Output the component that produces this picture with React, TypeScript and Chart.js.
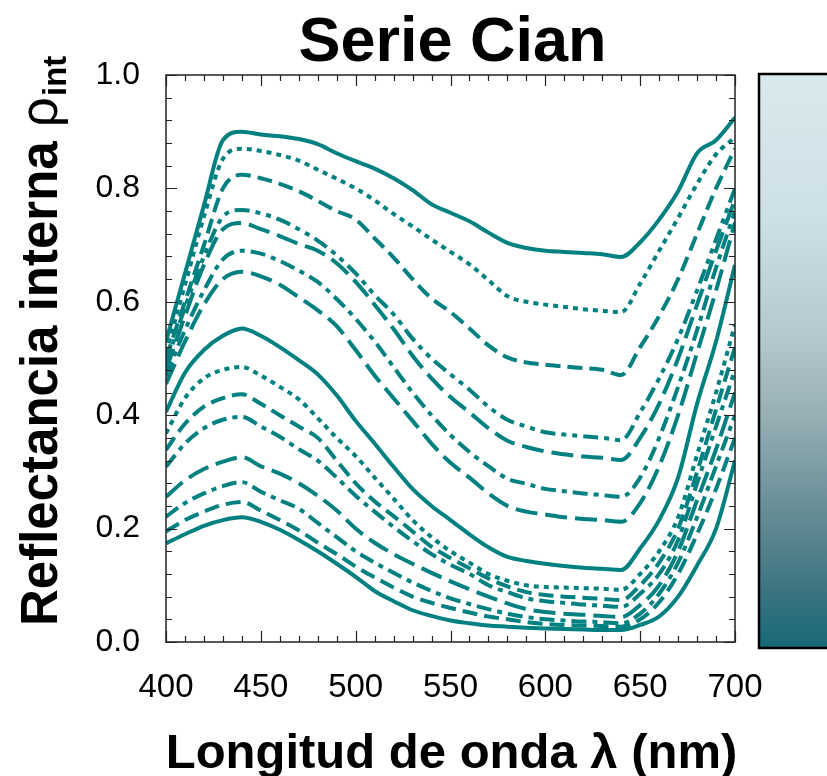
import React, { useEffect, useRef } from "react";
import { Chart, registerables } from "chart.js";

Chart.register(...registerables);

const wavelengths = [400, 410, 420, 430, 440, 450, 460, 470, 480, 490, 500, 510, 520, 530, 540, 550, 560, 570, 580, 590, 600, 610, 620, 630, 640, 650, 660, 670, 680, 690, 700];

const serieU1 = [0.53, 0.65, 0.77, 0.885, 0.90, 0.895, 0.892, 0.887, 0.878, 0.862, 0.848, 0.835, 0.818, 0.797, 0.772, 0.757, 0.742, 0.722, 0.704, 0.695, 0.690, 0.688, 0.686, 0.684, 0.679, 0.705, 0.745, 0.795, 0.862, 0.885, 0.925];
const serieU2 = [0.51, 0.63, 0.75, 0.852, 0.87, 0.866, 0.859, 0.849, 0.833, 0.817, 0.800, 0.779, 0.755, 0.733, 0.710, 0.688, 0.666, 0.638, 0.610, 0.600, 0.595, 0.591, 0.587, 0.584, 0.582, 0.632, 0.690, 0.748, 0.808, 0.860, 0.890];
const serieU3 = [0.50, 0.60, 0.70, 0.80, 0.824, 0.818, 0.808, 0.795, 0.778, 0.760, 0.745, 0.712, 0.678, 0.640, 0.606, 0.582, 0.553, 0.523, 0.502, 0.493, 0.489, 0.486, 0.483, 0.480, 0.471, 0.520, 0.575, 0.640, 0.720, 0.800, 0.870];
const serieU4 = [0.49, 0.59, 0.68, 0.75, 0.762, 0.756, 0.745, 0.728, 0.708, 0.682, 0.650, 0.612, 0.578, 0.535, 0.500, 0.472, 0.445, 0.415, 0.392, 0.380, 0.370, 0.366, 0.363, 0.360, 0.356, 0.405, 0.465, 0.535, 0.620, 0.710, 0.800];
const serieU5 = [0.48, 0.575, 0.665, 0.728, 0.739, 0.728, 0.716, 0.702, 0.690, 0.668, 0.635, 0.595, 0.552, 0.505, 0.465, 0.432, 0.405, 0.377, 0.355, 0.344, 0.336, 0.331, 0.327, 0.325, 0.321, 0.360, 0.420, 0.500, 0.595, 0.690, 0.780];
const serieU6 = [0.47, 0.55, 0.62, 0.675, 0.69, 0.685, 0.672, 0.655, 0.635, 0.605, 0.570, 0.530, 0.485, 0.440, 0.400, 0.365, 0.335, 0.310, 0.288, 0.279, 0.270, 0.266, 0.262, 0.259, 0.256, 0.290, 0.360, 0.450, 0.550, 0.660, 0.760];
const serieU7 = [0.455, 0.53, 0.595, 0.64, 0.653, 0.645, 0.630, 0.608, 0.585, 0.557, 0.515, 0.470, 0.430, 0.390, 0.350, 0.316, 0.290, 0.262, 0.240, 0.230, 0.225, 0.220, 0.217, 0.215, 0.212, 0.245, 0.310, 0.400, 0.510, 0.620, 0.740];
const serieL1 = [0.406, 0.475, 0.515, 0.54, 0.553, 0.54, 0.52, 0.497, 0.472, 0.435, 0.390, 0.350, 0.309, 0.270, 0.240, 0.215, 0.190, 0.167, 0.150, 0.143, 0.138, 0.134, 0.131, 0.129, 0.127, 0.165, 0.215, 0.290, 0.420, 0.530, 0.665];
const serieL2 = [0.368, 0.43, 0.465, 0.48, 0.485, 0.47, 0.45, 0.428, 0.395, 0.36, 0.328, 0.29, 0.253, 0.215, 0.185, 0.16, 0.14, 0.12, 0.108, 0.10, 0.097, 0.096, 0.095, 0.094, 0.092, 0.12, 0.16, 0.22, 0.33, 0.44, 0.56];
const serieL3 = [0.339, 0.385, 0.415, 0.43, 0.437, 0.42, 0.40, 0.38, 0.36, 0.32, 0.28, 0.248, 0.222, 0.195, 0.168, 0.148, 0.13, 0.112, 0.098, 0.088, 0.083, 0.08, 0.078, 0.076, 0.074, 0.10, 0.14, 0.20, 0.30, 0.41, 0.52];
const serieL4 = [0.309, 0.35, 0.377, 0.392, 0.397, 0.38, 0.362, 0.34, 0.32, 0.29, 0.258, 0.23, 0.203, 0.178, 0.155, 0.136, 0.12, 0.10, 0.088, 0.077, 0.072, 0.069, 0.066, 0.064, 0.062, 0.085, 0.12, 0.18, 0.28, 0.38, 0.48];
const serieL5 = [0.256, 0.285, 0.305, 0.318, 0.326, 0.31, 0.297, 0.28, 0.258, 0.232, 0.20, 0.175, 0.155, 0.138, 0.122, 0.107, 0.093, 0.08, 0.068, 0.058, 0.053, 0.05, 0.048, 0.046, 0.044, 0.065, 0.10, 0.16, 0.25, 0.34, 0.44];
const serieL6 = [0.221, 0.245, 0.262, 0.275, 0.282, 0.265, 0.25, 0.235, 0.21, 0.185, 0.16, 0.14, 0.122, 0.105, 0.09, 0.077, 0.067, 0.058, 0.05, 0.044, 0.04, 0.038, 0.036, 0.035, 0.033, 0.05, 0.085, 0.14, 0.22, 0.31, 0.40];
const serieL7 = [0.195, 0.215, 0.23, 0.242, 0.247, 0.232, 0.215, 0.197, 0.175, 0.155, 0.133, 0.114, 0.096, 0.08, 0.069, 0.06, 0.052, 0.045, 0.04, 0.035, 0.032, 0.03, 0.029, 0.028, 0.027, 0.04, 0.07, 0.12, 0.19, 0.27, 0.36];
const serieL8 = [0.174, 0.19, 0.205, 0.215, 0.22, 0.212, 0.198, 0.18, 0.16, 0.138, 0.115, 0.09, 0.072, 0.056, 0.046, 0.038, 0.033, 0.029, 0.027, 0.025, 0.024, 0.023, 0.022, 0.021, 0.021, 0.03, 0.045, 0.08, 0.135, 0.20, 0.32];

const allSeries = [serieU1, serieU2, serieU3, serieU4, serieU5, serieU6, serieU7, serieL1, serieL2, serieL3, serieL4, serieL5, serieL6, serieL7, serieL8];

const xTicks = [400, 450, 500, 550, 600, 650, 700];
const yTicks = [0.0, 0.2, 0.4, 0.6, 0.8, 1.0];

const titleText = "Serie Cian";
const xTitleText = "Longitud de onda λ (nm)";
const yTitleMain = "Reflectancia interna ";
const yTitleGreek = "ρ";
const yTitleSub = "int";

const TEAL = "#008080";
const FONT = "'Liberation Sans', Arial, sans-serif";

const SOLID: number[] = [];
const DOT = [5, 5];
const DASH = [15, 7];
const DDD = [15, 6, 5, 6, 5, 6];
const DD = [15, 6, 5, 6];
const LONG = [22, 8];
const dashStyles = [SOLID, DOT, DASH, DDD, LONG, DD, LONG, SOLID, DOT, DASH, DD, LONG, DD, DASH, SOLID];

const decorPlugin = {
  id: "decor",
  afterDraw(chart: any) {
    const ctx = chart.ctx;
    const { left, right, top, bottom } = chart.chartArea;
    const xs = chart.scales.x;
    const ys = chart.scales.y;
    ctx.save();
    ctx.strokeStyle = "#222";
    ctx.lineWidth = 1.5;
    ctx.strokeRect(left, top, right - left, bottom - top);
    ctx.lineWidth = 1.2;
    ctx.beginPath();
    for (let v = 400; v <= 700; v += 10) {
      const px = Math.round(xs.getPixelForValue(v)) + 0.5;
      const len = v % 50 === 0 ? 11 : 6;
      ctx.moveTo(px, bottom); ctx.lineTo(px, bottom - len);
      ctx.moveTo(px, top); ctx.lineTo(px, top + len);
    }
    for (let i = 0; i <= 25; i++) {
      const v = i * 0.04;
      const py = Math.round(ys.getPixelForValue(v)) + 0.5;
      const len = i % 5 === 0 ? 11 : 6;
      ctx.moveTo(left, py); ctx.lineTo(left + len, py);
      ctx.moveTo(right, py); ctx.lineTo(right - len, py);
    }
    ctx.stroke();

    const cbX = 759, cbY = 74, cbW = 90, cbH = 574;
    const g = ctx.createLinearGradient(0, cbY, 0, cbY + cbH);
    g.addColorStop(0, "rgb(217,234,238)");
    g.addColorStop(0.25, "rgb(205,224,229)");
    g.addColorStop(0.45, "rgb(182,201,206)");
    g.addColorStop(0.6, "rgb(150,174,180)");
    g.addColorStop(0.75, "rgb(106,143,152)");
    g.addColorStop(0.9, "rgb(60,116,128)");
    g.addColorStop(1, "rgb(23,104,119)");
    ctx.fillStyle = g;
    ctx.fillRect(cbX, cbY, cbW, cbH);
    ctx.strokeStyle = "#000";
    ctx.lineWidth = 2.5;
    ctx.strokeRect(cbX, cbY, cbW, cbH);

    ctx.fillStyle = "#000";
    ctx.textAlign = "center";
    ctx.textBaseline = "alphabetic";
    ctx.font = `bold 63px ${FONT}`;
    ctx.fillText(titleText, (left + right) / 2 + 2, 61);
    ctx.font = `bold 49px ${FONT}`;
    ctx.fillText(xTitleText, (left + right) / 2 + 1, 768);

    ctx.save();
    ctx.translate(57, 626);
    ctx.rotate(-Math.PI / 2);
    ctx.textAlign = "left";
    ctx.font = `bold 51px ${FONT}`;
    ctx.fillText(yTitleMain, 0, 0);
    let w = ctx.measureText(yTitleMain).width;
    ctx.font = `53px ${FONT}`;
    ctx.fillText(yTitleGreek, w, 0);
    w += ctx.measureText(yTitleGreek).width + 1;
    ctx.font = `bold 33px ${FONT}`;
    ctx.fillText(yTitleSub, w, 9);
    ctx.restore();

    ctx.restore();
  },
};

export default function App() {
  const ref = useRef<HTMLCanvasElement | null>(null);
  useEffect(() => {
    if (!ref.current) return;
    const datasets = allSeries.map((s, i) => ({
      label: `s${i + 1}`,
      data: wavelengths.map((x, j) => ({ x, y: s[j] })),
      borderColor: TEAL,
      backgroundColor: TEAL,
      borderWidth: 4,
      borderDash: dashStyles[i],
      borderCapStyle: "butt" as const,
      pointRadius: 0,
      fill: false,
      cubicInterpolationMode: "monotone" as const,
    }));
    const chart = new Chart(ref.current, {
      type: "line",
      data: { datasets },
      options: {
        animation: false,
        responsive: false,
        devicePixelRatio: 1,
        layout: { padding: { top: 75, right: 92, left: 0, bottom: 0 } },
        plugins: { legend: { display: false }, title: { display: false }, tooltip: { enabled: false } },
        scales: {
          x: {
            type: "linear",
            min: 400,
            max: 700,
            afterFit: (s: any) => { s.height = 134; },
            afterBuildTicks: (s: any) => { s.ticks = xTicks.map((v) => ({ value: v })); },
            grid: { display: false },
            border: { display: false },
            ticks: { color: "#000", font: { family: FONT, size: 33 }, padding: 18, maxRotation: 0 },
          },
          y: {
            type: "linear",
            min: 0,
            max: 1,
            afterFit: (s: any) => { s.width = 166; },
            afterBuildTicks: (s: any) => { s.ticks = yTicks.map((v) => ({ value: v })); },
            grid: { display: false },
            border: { display: false },
            ticks: {
              color: "#000",
              font: { family: FONT, size: 32 },
              padding: 18,
              callback: (v: any) => Number(v).toFixed(1),
            },
          },
        },
      },
      plugins: [decorPlugin],
    });
    return () => chart.destroy();
  }, []);
  return (
    <div style={{ position: "absolute", left: 0, top: 0, width: 827, height: 776, background: "#fff" }}>
      <canvas ref={ref} width={827} height={776} style={{ display: "block", width: 827, height: 776 }} />
    </div>
  );
}
